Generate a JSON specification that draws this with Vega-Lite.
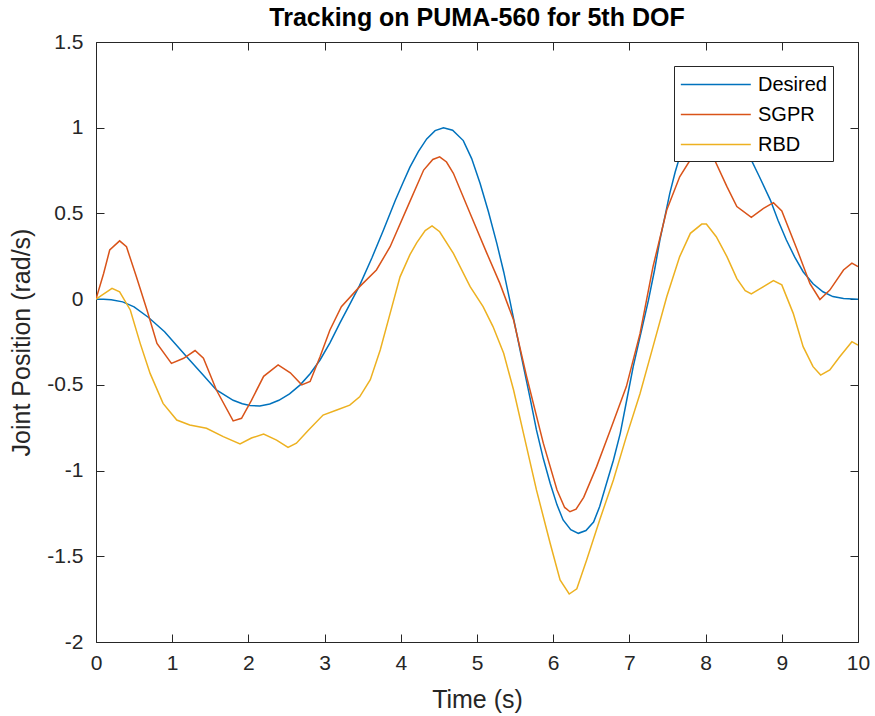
{
  "$schema": "https://vega.github.io/schema/vega-lite/v6.json",
  "width": 762,
  "height": 600,
  "autosize": {"type": "none"},
  "padding": {"left": 96, "top": 42, "right": 17, "bottom": 74},
  "background": "white",
  "config": {
    "font": "Liberation Sans",
    "view": {"stroke": "#262626", "strokeWidth": 1},
    "axis": {"grid": false, "domain": false, "ticks": true, "tickColor": "#262626", "tickOpacity": 1, "tickSize": 8, "tickWidth": 1, "offset": -8, "zindex": 2, "labelFlush": false, "labelColor": "#262626", "labelFontSize": 21, "titleColor": "#262626", "titleFontSize": 25, "titleFontWeight": "normal"}
  },
  "title": {"text": "Tracking on PUMA-560 for 5th DOF", "fontSize": 25, "fontWeight": "bold", "color": "#000000", "anchor": "middle", "offset": 0},
  "data": {"values": [
    {"t":0,"v":0,"s":"Desired"},{"t":0.1,"v":-0.001,"s":"Desired"},{"t":0.2,"v":-0.004,"s":"Desired"},{"t":0.35,"v":-0.016,"s":"Desired"},{"t":0.5,"v":-0.045,"s":"Desired"},{"t":0.69,"v":-0.107,"s":"Desired"},{"t":0.9,"v":-0.19,"s":"Desired"},{"t":1.19,"v":-0.336,"s":"Desired"},{"t":1.4,"v":-0.44,"s":"Desired"},{"t":1.58,"v":-0.53,"s":"Desired"},{"t":1.8,"v":-0.59,"s":"Desired"},{"t":1.92,"v":-0.61,"s":"Desired"},{"t":2.02,"v":-0.62,"s":"Desired"},{"t":2.15,"v":-0.623,"s":"Desired"},{"t":2.28,"v":-0.612,"s":"Desired"},{"t":2.4,"v":-0.59,"s":"Desired"},{"t":2.54,"v":-0.553,"s":"Desired"},{"t":2.68,"v":-0.5,"s":"Desired"},{"t":2.81,"v":-0.435,"s":"Desired"},{"t":2.94,"v":-0.355,"s":"Desired"},{"t":3.07,"v":-0.255,"s":"Desired"},{"t":3.2,"v":-0.14,"s":"Desired"},{"t":3.33,"v":-0.03,"s":"Desired"},{"t":3.46,"v":0.08,"s":"Desired"},{"t":3.62,"v":0.24,"s":"Desired"},{"t":3.77,"v":0.4,"s":"Desired"},{"t":3.93,"v":0.578,"s":"Desired"},{"t":4.03,"v":0.68,"s":"Desired"},{"t":4.12,"v":0.77,"s":"Desired"},{"t":4.23,"v":0.86,"s":"Desired"},{"t":4.34,"v":0.935,"s":"Desired"},{"t":4.45,"v":0.983,"s":"Desired"},{"t":4.56,"v":1.0,"s":"Desired"},{"t":4.68,"v":0.985,"s":"Desired"},{"t":4.82,"v":0.925,"s":"Desired"},{"t":4.93,"v":0.82,"s":"Desired"},{"t":5.04,"v":0.676,"s":"Desired"},{"t":5.15,"v":0.51,"s":"Desired"},{"t":5.26,"v":0.325,"s":"Desired"},{"t":5.35,"v":0.16,"s":"Desired"},{"t":5.43,"v":-0.006,"s":"Desired"},{"t":5.52,"v":-0.2,"s":"Desired"},{"t":5.61,"v":-0.394,"s":"Desired"},{"t":5.7,"v":-0.585,"s":"Desired"},{"t":5.78,"v":-0.763,"s":"Desired"},{"t":5.87,"v":-0.93,"s":"Desired"},{"t":5.96,"v":-1.074,"s":"Desired"},{"t":6.05,"v":-1.2,"s":"Desired"},{"t":6.13,"v":-1.288,"s":"Desired"},{"t":6.23,"v":-1.345,"s":"Desired"},{"t":6.33,"v":-1.366,"s":"Desired"},{"t":6.43,"v":-1.35,"s":"Desired"},{"t":6.53,"v":-1.3,"s":"Desired"},{"t":6.61,"v":-1.21,"s":"Desired"},{"t":6.7,"v":-1.074,"s":"Desired"},{"t":6.79,"v":-0.94,"s":"Desired"},{"t":6.88,"v":-0.783,"s":"Desired"},{"t":6.96,"v":-0.6,"s":"Desired"},{"t":7.05,"v":-0.394,"s":"Desired"},{"t":7.15,"v":-0.2,"s":"Desired"},{"t":7.25,"v":-0.006,"s":"Desired"},{"t":7.33,"v":0.17,"s":"Desired"},{"t":7.4,"v":0.345,"s":"Desired"},{"t":7.47,"v":0.49,"s":"Desired"},{"t":7.53,"v":0.617,"s":"Desired"},{"t":7.6,"v":0.74,"s":"Desired"},{"t":7.66,"v":0.83,"s":"Desired"},{"t":7.8,"v":0.93,"s":"Desired"},{"t":7.95,"v":0.985,"s":"Desired"},{"t":8.1,"v":1.0,"s":"Desired"},{"t":8.25,"v":0.98,"s":"Desired"},{"t":8.4,"v":0.92,"s":"Desired"},{"t":8.58,"v":0.83,"s":"Desired"},{"t":8.7,"v":0.72,"s":"Desired"},{"t":8.85,"v":0.578,"s":"Desired"},{"t":8.95,"v":0.46,"s":"Desired"},{"t":9.06,"v":0.345,"s":"Desired"},{"t":9.17,"v":0.245,"s":"Desired"},{"t":9.28,"v":0.16,"s":"Desired"},{"t":9.41,"v":0.09,"s":"Desired"},{"t":9.54,"v":0.043,"s":"Desired"},{"t":9.67,"v":0.015,"s":"Desired"},{"t":9.81,"v":0.004,"s":"Desired"},{"t":10,"v":0,"s":"Desired"},
    {"t":0,"v":0,"s":"SGPR"},{"t":0.1,"v":0.15,"s":"SGPR"},{"t":0.18,"v":0.287,"s":"SGPR"},{"t":0.31,"v":0.34,"s":"SGPR"},{"t":0.4,"v":0.306,"s":"SGPR"},{"t":0.53,"v":0.13,"s":"SGPR"},{"t":0.67,"v":-0.065,"s":"SGPR"},{"t":0.8,"v":-0.258,"s":"SGPR"},{"t":0.99,"v":-0.375,"s":"SGPR"},{"t":1.15,"v":-0.345,"s":"SGPR"},{"t":1.3,"v":-0.3,"s":"SGPR"},{"t":1.41,"v":-0.345,"s":"SGPR"},{"t":1.58,"v":-0.53,"s":"SGPR"},{"t":1.8,"v":-0.71,"s":"SGPR"},{"t":1.91,"v":-0.695,"s":"SGPR"},{"t":2.04,"v":-0.59,"s":"SGPR"},{"t":2.2,"v":-0.45,"s":"SGPR"},{"t":2.39,"v":-0.384,"s":"SGPR"},{"t":2.55,"v":-0.43,"s":"SGPR"},{"t":2.7,"v":-0.5,"s":"SGPR"},{"t":2.81,"v":-0.48,"s":"SGPR"},{"t":2.94,"v":-0.336,"s":"SGPR"},{"t":3.07,"v":-0.18,"s":"SGPR"},{"t":3.22,"v":-0.044,"s":"SGPR"},{"t":3.46,"v":0.073,"s":"SGPR"},{"t":3.68,"v":0.17,"s":"SGPR"},{"t":3.86,"v":0.306,"s":"SGPR"},{"t":4.1,"v":0.55,"s":"SGPR"},{"t":4.3,"v":0.753,"s":"SGPR"},{"t":4.42,"v":0.815,"s":"SGPR"},{"t":4.51,"v":0.83,"s":"SGPR"},{"t":4.6,"v":0.8,"s":"SGPR"},{"t":4.69,"v":0.734,"s":"SGPR"},{"t":4.91,"v":0.5,"s":"SGPR"},{"t":5.13,"v":0.267,"s":"SGPR"},{"t":5.3,"v":0.092,"s":"SGPR"},{"t":5.48,"v":-0.122,"s":"SGPR"},{"t":5.65,"v":-0.45,"s":"SGPR"},{"t":5.87,"v":-0.84,"s":"SGPR"},{"t":6.05,"v":-1.113,"s":"SGPR"},{"t":6.15,"v":-1.215,"s":"SGPR"},{"t":6.22,"v":-1.24,"s":"SGPR"},{"t":6.3,"v":-1.225,"s":"SGPR"},{"t":6.4,"v":-1.156,"s":"SGPR"},{"t":6.57,"v":-0.977,"s":"SGPR"},{"t":6.75,"v":-0.763,"s":"SGPR"},{"t":6.96,"v":-0.51,"s":"SGPR"},{"t":7.14,"v":-0.2,"s":"SGPR"},{"t":7.31,"v":0.19,"s":"SGPR"},{"t":7.49,"v":0.52,"s":"SGPR"},{"t":7.66,"v":0.714,"s":"SGPR"},{"t":7.82,"v":0.827,"s":"SGPR"},{"t":7.97,"v":0.88,"s":"SGPR"},{"t":8.1,"v":0.83,"s":"SGPR"},{"t":8.28,"v":0.656,"s":"SGPR"},{"t":8.41,"v":0.54,"s":"SGPR"},{"t":8.6,"v":0.477,"s":"SGPR"},{"t":8.76,"v":0.53,"s":"SGPR"},{"t":8.89,"v":0.563,"s":"SGPR"},{"t":9.0,"v":0.515,"s":"SGPR"},{"t":9.2,"v":0.29,"s":"SGPR"},{"t":9.37,"v":0.09,"s":"SGPR"},{"t":9.5,"v":-0.002,"s":"SGPR"},{"t":9.63,"v":0.053,"s":"SGPR"},{"t":9.81,"v":0.17,"s":"SGPR"},{"t":9.92,"v":0.21,"s":"SGPR"},{"t":10,"v":0.19,"s":"SGPR"},
    {"t":0,"v":0,"s":"RBD"},{"t":0.21,"v":0.063,"s":"RBD"},{"t":0.31,"v":0.043,"s":"RBD"},{"t":0.45,"v":-0.063,"s":"RBD"},{"t":0.58,"v":-0.258,"s":"RBD"},{"t":0.71,"v":-0.433,"s":"RBD"},{"t":0.88,"v":-0.608,"s":"RBD"},{"t":1.06,"v":-0.705,"s":"RBD"},{"t":1.23,"v":-0.734,"s":"RBD"},{"t":1.45,"v":-0.753,"s":"RBD"},{"t":1.67,"v":-0.802,"s":"RBD"},{"t":1.89,"v":-0.845,"s":"RBD"},{"t":2.04,"v":-0.81,"s":"RBD"},{"t":2.2,"v":-0.787,"s":"RBD"},{"t":2.37,"v":-0.822,"s":"RBD"},{"t":2.52,"v":-0.865,"s":"RBD"},{"t":2.63,"v":-0.84,"s":"RBD"},{"t":2.79,"v":-0.763,"s":"RBD"},{"t":2.98,"v":-0.676,"s":"RBD"},{"t":3.16,"v":-0.647,"s":"RBD"},{"t":3.33,"v":-0.618,"s":"RBD"},{"t":3.46,"v":-0.57,"s":"RBD"},{"t":3.6,"v":-0.47,"s":"RBD"},{"t":3.73,"v":-0.297,"s":"RBD"},{"t":3.86,"v":-0.083,"s":"RBD"},{"t":3.99,"v":0.13,"s":"RBD"},{"t":4.12,"v":0.26,"s":"RBD"},{"t":4.21,"v":0.33,"s":"RBD"},{"t":4.32,"v":0.4,"s":"RBD"},{"t":4.41,"v":0.427,"s":"RBD"},{"t":4.51,"v":0.393,"s":"RBD"},{"t":4.69,"v":0.267,"s":"RBD"},{"t":4.91,"v":0.073,"s":"RBD"},{"t":5.08,"v":-0.044,"s":"RBD"},{"t":5.21,"v":-0.16,"s":"RBD"},{"t":5.35,"v":-0.316,"s":"RBD"},{"t":5.48,"v":-0.53,"s":"RBD"},{"t":5.61,"v":-0.783,"s":"RBD"},{"t":5.78,"v":-1.113,"s":"RBD"},{"t":5.96,"v":-1.424,"s":"RBD"},{"t":6.09,"v":-1.638,"s":"RBD"},{"t":6.21,"v":-1.72,"s":"RBD"},{"t":6.31,"v":-1.69,"s":"RBD"},{"t":6.44,"v":-1.52,"s":"RBD"},{"t":6.61,"v":-1.288,"s":"RBD"},{"t":6.79,"v":-1.055,"s":"RBD"},{"t":6.96,"v":-0.802,"s":"RBD"},{"t":7.14,"v":-0.55,"s":"RBD"},{"t":7.31,"v":-0.277,"s":"RBD"},{"t":7.49,"v":0.014,"s":"RBD"},{"t":7.66,"v":0.248,"s":"RBD"},{"t":7.8,"v":0.384,"s":"RBD"},{"t":7.95,"v":0.438,"s":"RBD"},{"t":8.01,"v":0.438,"s":"RBD"},{"t":8.14,"v":0.364,"s":"RBD"},{"t":8.28,"v":0.248,"s":"RBD"},{"t":8.41,"v":0.12,"s":"RBD"},{"t":8.52,"v":0.05,"s":"RBD"},{"t":8.6,"v":0.03,"s":"RBD"},{"t":8.76,"v":0.073,"s":"RBD"},{"t":8.89,"v":0.108,"s":"RBD"},{"t":9.0,"v":0.083,"s":"RBD"},{"t":9.15,"v":-0.083,"s":"RBD"},{"t":9.28,"v":-0.277,"s":"RBD"},{"t":9.41,"v":-0.394,"s":"RBD"},{"t":9.51,"v":-0.443,"s":"RBD"},{"t":9.63,"v":-0.413,"s":"RBD"},{"t":9.76,"v":-0.336,"s":"RBD"},{"t":9.92,"v":-0.248,"s":"RBD"},{"t":10,"v":-0.268,"s":"RBD"}
  ]},
  "layer": [
    {
      "mark": {"type": "line", "strokeWidth": 1.5, "clip": true},
      "encoding": {
        "x": {"field": "t", "type": "quantitative", "scale": {"domain": [0, 10], "nice": false}, "axis": {"orient": "bottom", "title": "Time (s)", "values": [0,1,2,3,4,5,6,7,8,9,10], "labelExpr": "toString(datum.value)", "labelPadding": 10, "titlePadding": 14}},
        "y": {"field": "v", "type": "quantitative", "scale": {"domain": [-2, 1.5], "nice": false, "zero": false}, "axis": {"orient": "left", "title": "Joint Position (rad/s)", "values": [-2,-1.5,-1,-0.5,0,0.5,1,1.5], "labelExpr": "toString(datum.value)", "labelPadding": 13, "titlePadding": 12}},
        "color": {"field": "s", "type": "nominal", "sort": ["Desired", "SGPR", "RBD"],
          "scale": {"domain": ["Desired", "SGPR", "RBD"], "range": ["#0072BD", "#D95319", "#EDB120"]},
          "legend": {"title": null, "orient": "none", "legendX": 578, "legendY": 24, "symbolType": "M-1,0H5", "symbolSize": 544, "symbolStrokeWidth": 1.5, "symbolFillColor": "transparent", "labelFontSize": 20, "labelColor": "#000000", "labelOffset": 53, "fillColor": "white", "strokeColor": "#262626", "padding": 6, "rowPadding": 7}}
      }
    },
    {
      "mark": {"type": "point", "opacity": 0},
      "encoding": {
        "x": {"field": "t", "type": "quantitative", "axis": {"orient": "top", "title": null, "labels": false, "values": [0,1,2,3,4,5,6,7,8,9,10]}},
        "y": {"field": "v", "type": "quantitative", "axis": {"orient": "right", "title": null, "labels": false, "values": [-2,-1.5,-1,-0.5,0,0.5,1,1.5]}}
      }
    }
  ],
  "resolve": {"axis": {"x": "independent", "y": "independent"}}
}
